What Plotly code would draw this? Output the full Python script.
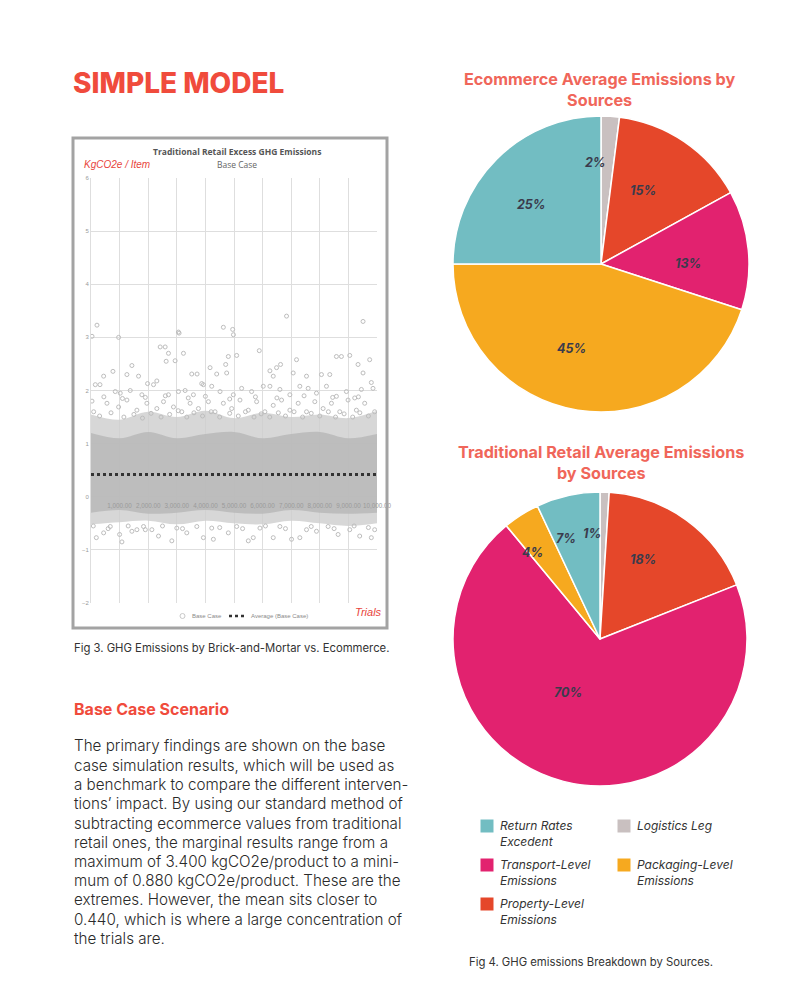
import plotly.graph_objects as go
import math

W, H = 800, 987
def X(px): return px / W
def Y(py): return 1 - py / H

# ---------------- DATA ----------------
# Scatter (Traditional Retail Excess GHG Emissions, Base Case)
trial_grid = [0, 1000, 2000, 3000, 4000, 5000, 6000, 7000, 8000, 9000, 10000]
core_outer_upper = [1.55, 1.45, 1.60, 1.50, 1.62, 1.48, 1.58, 1.50, 1.55, 1.48, 1.62]
core_outer_lower = [-0.52, -0.48, -0.45, -0.52, -0.45, -0.50, -0.52, -0.45, -0.50, -0.55, -0.50]
core_inner_upper = [1.20, 1.10, 1.22, 1.10, 1.18, 1.22, 1.10, 1.18, 1.22, 1.10, 1.18]
core_inner_lower = [-0.30, -0.25, -0.32, -0.30, -0.25, -0.30, -0.32, -0.25, -0.30, -0.32, -0.30]

fringe_trials = [
    209, 3058, 4628, 4953, 6837, 9512, 35, 965, 3080, 4980,
    2419, 2593, 2709, 2628, 2942, 3233, 1430, 767, 442, 1256, 1663, 1977, 2302,
    3523, 3709, 3872, 4163, 4395, 4709, 4802, 5093, 4744, 5884, 6256, 6488, 6628,
    6372, 7186, 7070, 7535, 8058, 8349, 8581, 8756, 9047, 9337, 9744, 9512, 9802,
    35, 151, 314, 849, 1023, 1372, 1779, 2186, 2709, 3058, 3291, 3581, 3930, 4221,
    4512, 4977, 5267, 5616, 6023, 6256, 6605, 6953, 7302, 7593, 7884, 8233, 8581,
    8930, 9221, 9453, 9860,
    93, 558, 965, 1256, 1605, 1953, 2302, 2535, 2884, 3174, 3465, 3756, 4105, 4337,
    4628, 4919, 5209, 5500, 5791, 6081, 6372, 6663, 6953, 7244, 7535, 7826, 8116,
    8407, 8698, 8988, 9279, 9570, 9919,
    300, 700, 1150, 1500, 1800, 2100, 2450, 2750, 3050, 3350, 3600, 3900, 4200, 4500,
    4850, 5150, 5400, 5700, 5950, 6250, 6550, 6800, 7100, 7400, 7700, 8000, 8300, 8550,
    8850, 9150, 9400, 9700,
    450, 1100, 1900, 2600, 3400, 4000, 4850, 5750, 6500, 7450, 8450, 9350,
    186, 442, 1000, 1081, 1430, 1605, 2128, 2360, 2826, 3349, 3930, 4279, 4802,
    5500, 5674, 5907, 6372, 7012, 7302, 7535, 7884, 8291, 8640, 9047, 9395, 9802,
    9919, 674, 3000, 5093, 6605, 1837, 4221,
    80, 600, 1300, 1900, 2500, 3200, 3700, 4500, 5300, 6100, 6800, 7700, 8500, 9200, 9700,
]
fringe_values = [
    3.23, 3.10, 3.19, 3.15, 3.40, 3.30, 3.02, 3.00, 3.08, 3.05,
    2.82, 2.82, 2.70, 2.55, 2.56, 2.70, 2.47, 2.36, 2.27, 2.30, 2.27, 2.13, 2.18,
    2.31, 2.31, 2.13, 2.43, 2.31, 2.49, 2.64, 2.66, 2.33, 2.75, 2.37, 2.43, 2.49,
    2.27, 2.58, 2.33, 2.27, 2.30, 2.30, 2.64, 2.64, 2.66, 2.49, 2.58, 2.33, 2.15,
    1.80, 2.11, 2.11, 1.98, 1.95, 2.00, 1.92, 2.11, 1.92, 1.98, 2.00, 1.92, 2.11, 2.08,
    1.98, 1.92, 2.04, 1.98, 2.08, 2.08, 2.02, 1.92, 2.08, 2.04, 1.95, 2.08, 1.89,
    1.98, 1.86, 2.02, 2.04,
    1.60, 1.76, 1.69, 1.82, 1.63, 1.76, 1.66, 1.79, 1.69, 1.60, 1.76, 1.66, 1.79, 1.60,
    1.76, 1.66, 1.82, 1.63, 1.79, 1.60, 1.72, 1.82, 1.63, 1.76, 1.60, 1.79, 1.66,
    1.76, 1.60, 1.82, 1.63, 1.76, 1.60,
    1.52, 1.58, 1.50, 1.55, 1.48, 1.57, 1.50, 1.55, 1.62, 1.50, 1.58, 1.52, 1.60, 1.50,
    1.57, 1.52, 1.60, 1.50, 1.56, 1.50, 1.58, 1.52, 1.60, 1.50, 1.57, 1.52, 1.60, 1.50,
    1.56, 1.50, 1.58, 1.52,
    1.88, 1.85, 1.87, 1.90, 1.86, 1.89, 1.84, 1.88, 1.86, 1.90, 1.87, 1.88,
    -0.77, -0.68, -0.71, -0.85, -0.65, -0.62, -0.62, -0.74, -0.83, -0.68, -0.77, -0.80, -0.68,
    -0.83, -0.77, -0.59, -0.77, -0.80, -0.77, -0.62, -0.65, -0.56, -0.71, -0.62, -0.74, -0.77,
    -0.62, -0.56, -0.59, -0.56, -0.56, -0.56, -0.59,
    -0.55, -0.60, -0.55, -0.62, -0.55, -0.60, -0.56, -0.58, -0.60, -0.55, -0.60, -0.56, -0.60, -0.55, -0.58,
]
average_value = 0.42
x_tick_values = [1000, 2000, 3000, 4000, 5000, 6000, 7000, 8000, 9000, 10000]
y_tick_values = [-2, -1, 0, 1, 2, 3, 4, 5, 6]

# Pies
pie_labels = ["Logistics Leg", "Property-Level Emissions", "Transport-Level Emissions",
              "Packaging-Level Emissions", "Return Rates Excedent"]
ecommerce_share = [2, 15, 13, 45, 25]
traditional_share = [1, 18, 70, 4, 7]

# Legend order (as printed)
legend_labels = ["Return Rates<br>Excedent", "Logistics Leg", "Transport-Level<br>Emissions",
                 "Packaging-Level<br>Emissions", "Property-Level<br>Emissions"]
legend_keys = ["Return Rates Excedent", "Logistics Leg", "Transport-Level Emissions",
               "Packaging-Level Emissions", "Property-Level Emissions"]

paragraph_lines = [
    "The primary findings are shown on the base",
    "case simulation results, which will be used as",
    "a benchmark to compare the different interven-",
    "tions’ impact. By using our standard method of",
    "subtracting ecommerce values from traditional",
    "retail ones, the marginal results range from a",
    "maximum of 3.400 kgCO2e/product to a mini-",
    "mum of 0.880 kgCO2e/product. These are the",
    "extremes. However, the mean sits closer to",
    "0.440, which is where a large concentration of",
    "the trials are.",
]

# ---------------- STYLE ----------------
slice_colors = {
    "Logistics Leg": "#c9c0c0",
    "Property-Level Emissions": "#e5472a",
    "Transport-Level Emissions": "#e2226f",
    "Packaging-Level Emissions": "#f6a91f",
    "Return Rates Excedent": "#72bdc2",
}
RED = "#f04b3c"
SALMON = "#f0665a"
FONT = "Inter"

fig = go.Figure()

# ---- Scatter chart ----
fig.add_trace(go.Scatter(x=trial_grid, y=core_outer_upper, mode="lines", line=dict(width=0, shape="spline"),
                         showlegend=False, hoverinfo="skip"))
fig.add_trace(go.Scatter(x=trial_grid, y=core_outer_lower, mode="lines", line=dict(width=0, shape="spline"),
                         fill="tonexty", fillcolor="rgba(205,205,205,0.8)", showlegend=False, hoverinfo="skip"))
fig.add_trace(go.Scatter(x=trial_grid, y=core_inner_upper, mode="lines", line=dict(width=0, shape="spline"),
                         showlegend=False, hoverinfo="skip"))
fig.add_trace(go.Scatter(x=trial_grid, y=core_inner_lower, mode="lines", line=dict(width=0, shape="spline"),
                         fill="tonexty", fillcolor="rgba(180,180,180,0.75)", showlegend=False, hoverinfo="skip"))
fig.add_trace(go.Scatter(x=fringe_trials, y=fringe_values, mode="markers", name="Base Case",
                         marker=dict(symbol="circle-open", size=4, color="#bdbdbd", line=dict(width=1)),
                         showlegend=False))
fig.add_trace(go.Scatter(x=[trial_grid[0], trial_grid[-1]], y=[average_value, average_value], mode="lines",
                         name="Average (Base Case)", line=dict(color="#333333", width=3, dash="dot"),
                         showlegend=False))

fig.update_layout(
    xaxis=dict(domain=[X(91), X(377)], range=[0, 10000], tickvals=x_tick_values,
               ticktext=[f"{v:,.2f}" for v in x_tick_values], anchor="free", position=Y(501),
               showgrid=True, gridcolor="#dedede", gridwidth=1, zeroline=False, showline=False,
               ticks="", tickangle=0, automargin=False,
               tickfont=dict(size=6.3, color="#9a9a9a", family="Liberation Sans")),
    yaxis=dict(domain=[Y(603), Y(178)], range=[-2, 6], tickvals=y_tick_values,
               showgrid=True, gridcolor="#dedede", gridwidth=1, zeroline=False,
               showline=True, linecolor="#dedede", ticks="", automargin=False,
               tickfont=dict(size=6, color="#9a9a9a", family="Liberation Sans")),
)

# ---- Pies ----
def pie_domain(cx, cy, r):
    return dict(x=[X(cx - r), X(cx + r)], y=[Y(cy + r), Y(cy - r)])

pie_specs = [
    (ecommerce_share, 601, 264, 148, [0.75, 0.68, 0.69, 0.58, 0.66]),
    (traditional_share, 600, 639, 147, [0.72, 0.67, 0.44, 0.70, 0.70]),
]
annotations = []
for values, cx, cy, r, label_r in pie_specs:
    fig.add_trace(go.Pie(labels=pie_labels, values=values, sort=False, direction="clockwise",
                         rotation=0, textinfo="none", hoverinfo="label+percent",
                         marker=dict(colors=[slice_colors[l] for l in pie_labels],
                                     line=dict(color="white", width=1.5)),
                         domain=pie_domain(cx, cy, r), showlegend=False))
    total = sum(values)
    cum = 0
    for v, f in zip(values, label_r):
        mid = (cum + v / 2) / total
        cum += v
        ang = 2 * math.pi * mid
        lx = cx + r * f * math.sin(ang)
        ly = cy - r * f * math.cos(ang)
        annotations.append(dict(x=X(lx), y=Y(ly), xref="paper", yref="paper", showarrow=False,
                                text=f"{round(100 * v / total)}%",
                                font=dict(family=FONT, size=12.5, color="#3a3b4c", weight=700, style="italic")))

def txt(x, y, text, size, color, xanchor="left", weight=400, style="normal", family=FONT, yanchor="middle", align="left"):
    annotations.append(dict(x=X(x), y=Y(y), xref="paper", yref="paper", showarrow=False, text=text,
                            xanchor=xanchor, yanchor=yanchor, align=align,
                            font=dict(family=family, size=size, color=color, weight=weight, style=style)))

# Headings
txt(71, 83, "SIMPLE MODEL", 28, RED, weight=800)
txt(600, 89, "Ecommerce Average Emissions by<br>Sources", 16.2, SALMON, xanchor="center", weight=700, align="center")
txt(601, 462, "Traditional Retail Average Emissions<br>by Sources", 16.2, SALMON, xanchor="center", weight=700, align="center")

# Scatter chart texts
txt(237, 151, "Traditional Retail Excess GHG Emissions", 8.5, "#555555", xanchor="center", weight=700, family="Open Sans")
txt(237, 164, "Base Case", 8.5, "#666666", xanchor="center", family="Open Sans")
txt(82, 164, "KgCO2e / Item", 10, "#e8453c", style="italic", family="Liberation Sans")
txt(384, 612, "Trials", 11, "#e8453c", xanchor="right", style="italic", family="Liberation Sans")

# Scatter legend (manual)
txt(190, 616, "Base Case", 6, "#8a8a8a", family="Liberation Sans")
txt(249, 616, "Average (Base Case)", 6, "#8a8a8a", family="Liberation Sans")

# Captions
txt(72, 648, "Fig 3. GHG Emissions by Brick-and-Mortar vs. Ecommerce.", 11.3, "#333333")
txt(467, 962, "Fig 4. GHG emissions Breakdown by Sources.", 11.3, "#333333")

# Section
txt(72, 709, "Base Case Scenario", 16, RED, weight=700)
line_y = [745, 765, 784, 803, 823, 842, 861, 880, 899, 919, 938]
for ly, line in zip(line_y, paragraph_lines):
    txt(72, ly, line, 15.2, "#2a2a2a", weight=300)

# Pie legend (manual)
legend_pos = [(487, 826), (624, 826), (487, 865), (624, 865), (487, 904)]
shapes = []
for (sx, sy), key, lab in zip(legend_pos, legend_keys, legend_labels):
    shapes.append(dict(type="rect", xref="paper", yref="paper", x0=X(sx - 6.5), x1=X(sx + 6.5),
                       y0=Y(sy + 6.5), y1=Y(sy - 6.5), fillcolor=slice_colors[key], line=dict(width=0)))
    txt(sx + 11, sy - 10, lab, 12, "#333333", style="italic", yanchor="top")

# Scatter legend symbols
shapes.append(dict(type="circle", xref="paper", yref="paper", x0=X(180), x1=X(185), y0=Y(618.5), y1=Y(613.5),
                   line=dict(color="#c8c8c8", width=1)))
shapes.append(dict(type="line", xref="paper", yref="paper", x0=X(229), x1=X(247), y0=Y(616), y1=Y(616),
                   line=dict(color="#333333", width=2.5, dash="dot")))

# Scatter frame
shapes.append(dict(type="rect", xref="paper", yref="paper", x0=X(73), x1=X(387), y0=Y(628), y1=Y(138),
                   line=dict(color="#a3a3a3", width=3)))

fig.update_layout(
    width=W, height=H, margin=dict(l=0, r=0, t=0, b=0, autoexpand=False), autosize=False,
    paper_bgcolor="white", plot_bgcolor="white",
    annotations=annotations, shapes=shapes, showlegend=False,
)

fig.write_html("out.html", config={"displayModeBar": False},
               post_script="document.body.style.margin='0';document.body.style.overflow='hidden';")
